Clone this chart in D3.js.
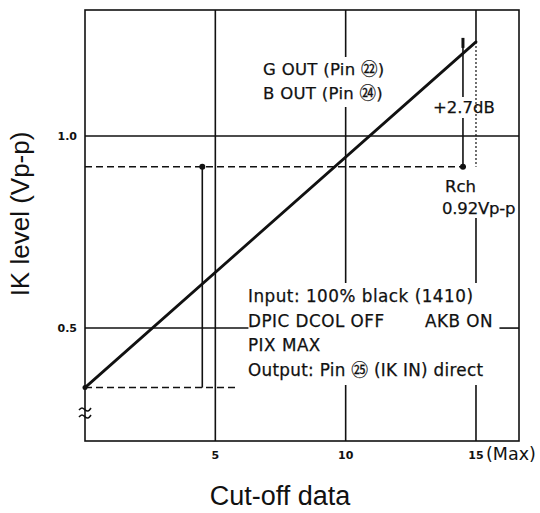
<!DOCTYPE html>
<html>
<head>
<meta charset="utf-8">
<script src="https://cdn.jsdelivr.net/npm/d3@7"></script>
<style>
  html, body { margin: 0; padding: 0; background: #fff; }
  svg { display: block; }
</style>
</head>
<body>
<svg id="chart" width="540" height="513"></svg>
<script>
// IK level vs. cut-off data (G / B outputs)
const cutoff = [0, 15];            // cut-off data at the ends of the characteristic
const ikLevel = [0.345, 1.245];    // IK level (Vp-p) at those points
const xTicks = [5, 10, 15];
const xTickLabels = ["5", "10", "15"];
const yTicks = [0.5, 1.0];
const yTickLabels = ["0.5", "1.0"];
const rchLevel = 0.92;             // R channel reference level, Vp-p
const gainDb = 2.7;                // G/B level above R at max cut-off
const markX = [4.5, 14.5];         // reference markers on the 0.92 line

const svg = d3.select("#chart");
const x = d3.scaleLinear().domain([0, 16.65]).range([85, 519]);
const y = d3.scaleLinear().domain([0.206, 1.328]).range([441, 10]);
const X0 = x.range()[0], X1 = x.range()[1];
const Y0 = y.range()[0], Y1 = y.range()[1];
const ink = "#111";
const noteFont = "'DejaVu Sans', sans-serif";

const g = svg.append("g");

// plot frame
g.append("rect")
  .attr("x", X0).attr("y", Y1).attr("width", X1 - X0).attr("height", Y0 - Y1)
  .attr("fill", "none").attr("stroke", ink).attr("stroke-width", 1.6);

// horizontal grid lines (0.5 is interrupted by the condition notes)
const hSeg = [
  { v: 1.0, from: 0, to: 16.65 },
  { v: 0.5, from: 0, to: 6.27 },
  { v: 0.5, from: 15.9, to: 16.65 }
];
g.selectAll(".hgrid").data(hSeg).join("line")
  .attr("x1", d => x(d.from)).attr("x2", d => x(d.to))
  .attr("y1", d => y(d.v)).attr("y2", d => y(d.v))
  .attr("stroke", ink).attr("stroke-width", 1.6);

// vertical grid lines, broken where text sits over them
const yTop = y.domain()[1], yBot = y.domain()[0];
const vSeg = [
  { v: 5, from: yBot, to: yTop, dash: null },
  { v: 10, from: yTop, to: y.invert(57), dash: null },
  { v: 10, from: y.invert(107), to: y.invert(283), dash: null },
  { v: 10, from: y.invert(385), to: yBot, dash: null },
  { v: 15, from: yTop, to: ikLevel[1], dash: null },
  { v: 15, from: ikLevel[1], to: rchLevel, dash: "2,2" },
  { v: 15, from: y.invert(218), to: y.invert(283), dash: null },
  { v: 15, from: y.invert(385), to: yBot, dash: null }
];
g.selectAll(".vgrid").data(vSeg).join("line")
  .attr("x1", d => x(d.v)).attr("x2", d => x(d.v))
  .attr("y1", d => y(d.from)).attr("y2", d => y(d.to))
  .attr("stroke", ink).attr("stroke-width", d => d.dash ? 1.2 : 1.6)
  .attr("stroke-dasharray", d => d.dash);

// dashed reference levels
const dashed = [
  { v: rchLevel, from: 0, to: 14.65 },
  { v: ikLevel[0], from: 0, to: 5.85 }
];
g.selectAll(".ref").data(dashed).join("line")
  .attr("x1", d => x(d.from)).attr("x2", d => x(d.to))
  .attr("y1", d => y(d.v)).attr("y2", d => y(d.v))
  .attr("stroke", ink).attr("stroke-width", 1.5)
  .attr("stroke-dasharray", "7,4");

// marker at 4.5: drop from Rch level to the start level
g.append("line")
  .attr("x1", x(markX[0])).attr("x2", x(markX[0]))
  .attr("y1", y(rchLevel)).attr("y2", y(ikLevel[0]))
  .attr("stroke", ink).attr("stroke-width", 1.6);

// marker at 14.5: +2.7 dB span above Rch level (gap for its label)
const gbLevel = rchLevel * Math.pow(10, gainDb / 20);
g.append("line")
  .attr("x1", x(markX[1])).attr("x2", x(markX[1]))
  .attr("y1", y(gbLevel)).attr("y2", 97)
  .attr("stroke", ink).attr("stroke-width", 1.6);
g.append("line")
  .attr("x1", x(markX[1])).attr("x2", x(markX[1]))
  .attr("y1", y(gbLevel)).attr("y2", y(gbLevel) + 10)
  .attr("stroke", ink).attr("stroke-width", 3);
g.append("line")
  .attr("x1", x(markX[1])).attr("x2", x(markX[1]))
  .attr("y1", 118).attr("y2", y(rchLevel))
  .attr("stroke", ink).attr("stroke-width", 1.6);

g.selectAll(".dot").data(markX).join("circle")
  .attr("cx", d => x(d)).attr("cy", y(rchLevel)).attr("r", 3)
  .attr("fill", ink);

// characteristic
const pts = cutoff.map((c, i) => [c, ikLevel[i]]);
g.append("path")
  .attr("d", d3.line().x(d => x(d[0])).y(d => y(d[1]))(pts))
  .attr("fill", "none").attr("stroke", ink).attr("stroke-width", 2.8)
  .attr("stroke-linecap", "round");
g.append("circle")
  .attr("cx", x(cutoff[0])).attr("cy", y(ikLevel[0])).attr("r", 2.5).attr("fill", ink);

// axis break mark on the y axis
const brk = d3.line().curve(d3.curveBasis);
[409, 416].forEach(yy => {
  g.append("path")
    .attr("d", brk([[X0 - 6, yy + 1], [X0 - 3, yy - 2], [X0, yy + 1], [X0 + 3, yy + 3], [X0 + 6, yy - 1]]))
    .attr("fill", "none").attr("stroke", ink).attr("stroke-width", 1.6);
});

// tick labels
g.selectAll(".ytl").data(yTicks).join("text")
  .attr("x", 77).attr("y", d => y(d) + 4)
  .attr("text-anchor", "end")
  .attr("font-family", noteFont).attr("font-size", 11).attr("font-weight", "bold")
  .attr("fill", ink)
  .text((d, i) => yTickLabels[i]);
g.selectAll(".xtl").data(xTicks).join("text")
  .attr("x", d => x(d)).attr("y", 459)
  .attr("text-anchor", "middle")
  .attr("font-family", noteFont).attr("font-size", 11).attr("font-weight", "bold")
  .attr("fill", ink)
  .text((d, i) => xTickLabels[i]);
g.append("text")
  .attr("x", 486).attr("y", 460)
  .attr("font-family", noteFont).attr("font-size", 17.5)
  .attr("fill", ink).text("(Max)");

// axis titles
g.append("text")
  .attr("x", 280).attr("y", 505).attr("text-anchor", "middle")
  .attr("font-family", "'Liberation Sans', Arial, sans-serif").attr("font-size", 27)
  .attr("fill", ink).text("Cut-off data");
g.append("text")
  .attr("transform", "translate(29,214) rotate(-90)")
  .attr("text-anchor", "middle")
  .attr("font-family", "'Liberation Sans', Arial, sans-serif").attr("font-size", 26)
  .attr("fill", ink).text("IK level (Vp-p)");

// annotations
const note = (tx, ty, str, size, spacing) => g.append("text")
  .attr("x", tx).attr("y", ty)
  .attr("font-family", noteFont + ", 'Noto Sans CJK JP'")
  .attr("font-size", size || 16.5)
  .attr("letter-spacing", spacing || 0)
  .attr("fill", ink).attr("stroke", ink).attr("stroke-width", 0.25)
  .text(str);

note(263, 75, "G OUT (Pin \u3252)", 16.5, 0.3);
note(263, 99, "B OUT (Pin \u3254)", 16.5, 0.3);
note(433, 113, "+2.7dB");
note(445, 192, "Rch");
note(442, 214, "0.92Vp-p", 16.5, -0.2);
note(248, 302, "Input: 100% black (1410)", 16.8, 0.5);
note(248, 327, "DPIC DCOL OFF", 16.8, 0.5);
note(425, 327, "AKB ON", 16.8, 0.5);
note(248, 351, "PIX MAX", 16.8, 0.5);
note(248, 376, "Output: Pin \u3255 (IK IN) direct", 16.8, 0.3);
</script>
</body>
</html>
